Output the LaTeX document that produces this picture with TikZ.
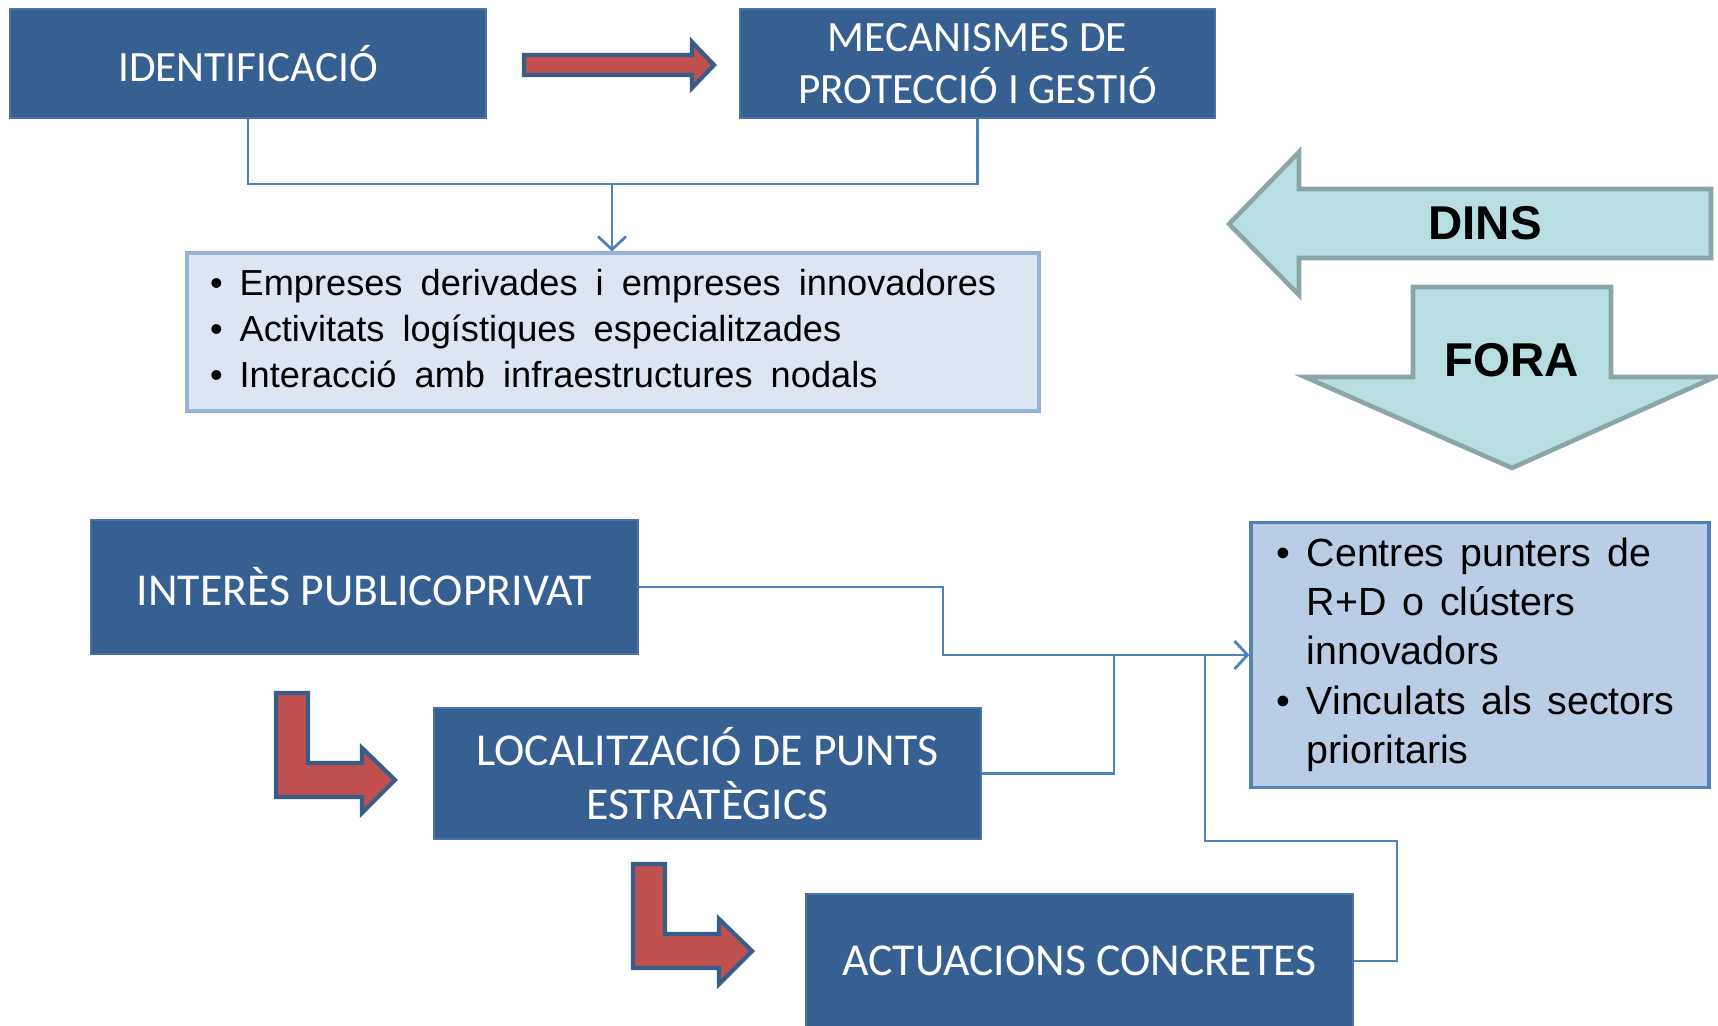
\documentclass[tikz,border=0pt]{standalone}
\usepackage{fontspec}
\newfontfamily\calibri{Carlito}
\newfontfamily\arial{Liberation Sans}
\usepackage{tikz}
\usetikzlibrary{arrows.meta}
\definecolor{blaufosc}{HTML}{376092}
\definecolor{vorafosc}{HTML}{4A72A6}
\definecolor{blauclar}{HTML}{DCE6F2}
\definecolor{voraclar}{HTML}{95B3D7}
\definecolor{blaumig}{HTML}{B9CDE5}
\definecolor{linia}{HTML}{4F81BD}
\definecolor{vermell}{HTML}{C0504D}
\definecolor{vorafletxa}{HTML}{385D8A}
\definecolor{turquesa}{HTML}{B7DEE0}
\definecolor{voraturq}{HTML}{8AA6A8}

\begin{document}
\begin{tikzpicture}[
  caixa/.style={draw=vorafosc, line width=0.8pt, fill=blaufosc, text=white, align=center, inner sep=0pt},
  llistat/.style={inner xsep=0.23cm, inner ysep=0pt, align=left, line width=0.9pt},
  connector/.style={draw=linia, line width=0.8pt},
  fletxa/.style={fill=vermell, draw=vorafletxa, line width=1.2pt, line join=miter},
  gran/.style={fill=turquesa, draw=voraturq, line width=1.3pt},
  rotul/.style={font=\arial\bfseries\fontsize{13.5}{16}\selectfont}
]
  \useasboundingbox (0,0) rectangle (17.18,-10.25);

  \node[caixa, minimum width=4.76cm, minimum height=1.09cm, font=\calibri\fontsize{12.3}{14.8}\selectfont]
    (ident) at (2.48,-0.635) {IDENTIFICACIÓ};
  \node[caixa, minimum width=4.75cm, minimum height=1.09cm, font=\calibri\fontsize{12.3}{14.8}\selectfont]
    (mecan) at (9.775,-0.635) {MECANISMES DE\\PROTECCIÓ I GESTIÓ};
  \node[llistat, draw=voraclar, fill=blauclar, text width=8.06cm, minimum height=1.58cm,
    font=\arial\fontsize{10.3}{13.1}\selectfont]
    (llista) at (6.13,-3.32) {\spaceskip=0.5em plus 0.1em\relax
    \begin{tabular}{@{}l@{\hspace{0.17cm}}l@{}}
      \textbullet & Empreses derivades i empreses innovadores\\
      \textbullet & Activitats logístiques especialitzades\\
      \textbullet & Interacció amb infraestructures nodals
    \end{tabular}};

  \node[caixa, minimum width=5.47cm, minimum height=1.34cm, font=\calibri\fontsize{13}{15.6}\selectfont]
    (interes) at (3.645,-5.87) {INTERÈS PUBLICOPRIVAT};
  \node[caixa, minimum width=5.47cm, minimum height=1.31cm, font=\calibri\fontsize{13}{15.6}\selectfont]
    (localitz) at (7.075,-7.735) {LOCALITZACIÓ DE PUNTS\\ESTRATÈGICS};
  \node[caixa, minimum width=5.47cm, minimum height=1.34cm, font=\calibri\fontsize{13}{15.6}\selectfont]
    (actuac) at (10.795,-9.61) {ACTUACIONS CONCRETES};
  \node[llistat, draw=linia, fill=blaumig, inner xsep=0.25cm, text width=4.08cm, minimum height=2.65cm,
    font=\arial\fontsize{11.2}{14}\selectfont]
    (centres) at (14.80,-6.55) {\spaceskip=0.4em plus 0.1em\relax
    \begin{tabular}{@{}l@{\hspace{0.17cm}}l@{}}
      \textbullet & Centres punters de\\
                  & R+D o clústers\\
                  & innovadors\\
      \textbullet & Vinculats als sectors\\
                  & prioritaris
    \end{tabular}};

  % fletxes grosses
  \draw[fletxa] (5.24,-0.55) -- (6.92,-0.55) -- (6.92,-0.42) -- (7.14,-0.65)
    -- (6.92,-0.88) -- (6.92,-0.75) -- (5.24,-0.75) -- cycle;
  \foreach \dx/\dy in {0/0, 3.57/-1.71}
    \draw[fletxa, shift={(\dx,\dy)}] (2.76,-6.93) -- (3.08,-6.93) -- (3.08,-7.63) -- (3.62,-7.63)
      -- (3.62,-7.48) -- (3.95,-7.80) -- (3.62,-8.13) -- (3.62,-7.97) -- (2.76,-7.97) -- cycle;

  \draw[gran] (12.29,-2.24) -- (12.99,-1.52) -- (12.99,-1.89) -- (17.11,-1.89)
    -- (17.11,-2.58) -- (12.99,-2.58) -- (12.99,-2.95) -- cycle;
  \draw[gran] (14.13,-2.87) -- (16.11,-2.87) -- (16.11,-3.77) -- (17.15,-3.77)
    -- (15.12,-4.68) -- (13.05,-3.77) -- (14.13,-3.77) -- cycle;
  \node[rotul] (dins) at (14.85,-2.23) {DINS};
  \node[rotul] (fora) at (15.12,-3.60) {FORA};

  % connectors
  \coordinate (junt) at (6.12,-1.84);
  \coordinate (nus1) at (9.43,-6.55);
  \coordinate (nus2) at (11.14,-6.55);
  \coordinate (nus3) at (12.05,-6.55);
  \coordinate (colze) at (13.97,-8.41);
  \draw[connector] (ident.south) |- (junt) -| (mecan.south);
  \draw[connector, -{Straight Barb[length=1.3mm,width=2.8mm]}] (junt) -- (junt |- llista.north);
  \draw[connector, -{Straight Barb[length=1.3mm,width=2.8mm]}] (interes.east) -| (nus1) -- (centres.west);
  \draw[connector] (localitz.east) -| (nus2);
  \draw[connector] (actuac.east) -| (colze) -| (nus3);
\end{tikzpicture}
\end{document}
